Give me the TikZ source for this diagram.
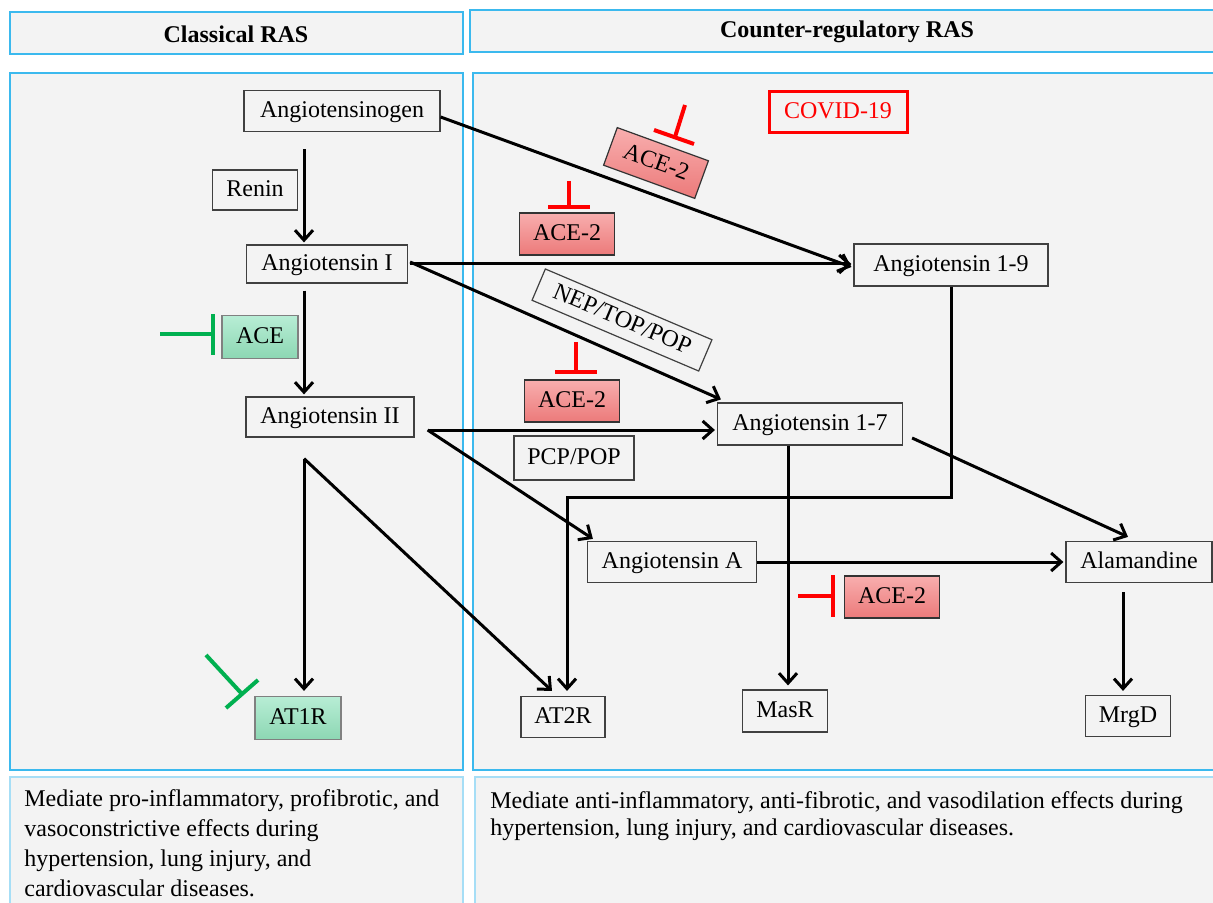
\documentclass[tikz,border=0pt]{standalone}
\usepackage{fontspec}
\setmainfont{Liberation Serif}
\usetikzlibrary{arrows.meta,calc}
\definecolor{panel}{HTML}{F3F3F3}
\definecolor{pblue}{HTML}{3BB9EE}
\definecolor{pblue2}{HTML}{A6DEF6}
\definecolor{inhred}{HTML}{FF0000}
\definecolor{inhgreen}{HTML}{00B050}
\definecolor{acetop}{HTML}{F8AEAE}
\definecolor{acebot}{HTML}{EC7A7A}
\definecolor{grtop}{HTML}{B8EDD5}
\definecolor{grbot}{HTML}{8CD7B3}
\tikzset{
 lbl/.style={draw=black!75, line width=0.6pt, fill=panel, inner sep=0pt, text height=9pt, text depth=2.5pt, font=\fontsize{12}{14}\selectfont, text=black},
 redbox/.style={lbl, draw=black!80, top color=acetop, bottom color=acebot, minimum width=47.5pt, minimum height=21pt},
 greenbox/.style={lbl, draw=black!50, top color=grtop, bottom color=grbot},
 arr/.style={line width=1.5pt, -{Straight Barb[length=5pt,width=9pt]}},
 inhr/.style={line width=2pt, draw=inhred},
 inhg/.style={line width=2pt, draw=inhgreen},
 hdr/.style={draw=pblue, line width=1pt, fill=panel},
 pan/.style={draw=pblue, line width=1pt, fill=panel},
 pan2/.style={draw=pblue2, line width=1pt, fill=panel},
}
\begin{document}
\begin{tikzpicture}[x=0.5pt,y=-0.5pt]
\useasboundingbox (0,0) rectangle (1213,903);
\clip (0,0) rectangle (1213,903);
% headers and panels
\draw[hdr] (10,12) rectangle (463,54);
\node[font=\fontsize{12}{14}\selectfont\bfseries] (h1) at (236,34) {Classical RAS};
\draw[hdr] (470,10) rectangle (1230,52);
\node[font=\fontsize{12}{14}\selectfont\bfseries] (h2) at (847,32) {Counter-regulatory RAS};
\draw[pan] (10,73) rectangle (463,770);
\draw[pan] (473,73) rectangle (1230,770);
\draw[pan2] (10,777) rectangle (463,920);
\draw[pan2] (475,777) rectangle (1230,920);
\node[anchor=north west, inner sep=0pt, align=left, font=\fontsize{12}{15}\selectfont] (t1) at (24,789)
 {Mediate pro-inflammatory, profibrotic, and\\vasoconstrictive effects during\\hypertension, lung injury, and\\cardiovascular diseases.};
\node[anchor=north west, inner sep=0pt, align=left, font=\fontsize{12}{13.5}\selectfont] (t2) at (490,791)
 {Mediate anti-inflammatory, anti-fibrotic, and vasodilation effects during\\hypertension, lung injury, and cardiovascular diseases.};
% nodes
\node[lbl, minimum width=98pt, minimum height=20.5pt] (ag) at (342,111) {Angiotensinogen};
\node[lbl, minimum width=42.5pt, minimum height=20pt] (renin) at (255,190) {Renin};
\node[lbl, minimum width=80.5pt, minimum height=19pt] (a1) at (327,264) {Angiotensin I};
\node[greenbox, minimum width=38pt, minimum height=21.5pt] (ace) at (260,337) {ACE};
\node[lbl, minimum width=84pt, minimum height=20pt] (a2) at (330,417) {Angiotensin II};
\node[greenbox, minimum width=43pt, minimum height=21.5pt] (at1r) at (298,718) {AT1R};
\node[lbl, draw=inhred, line width=1.5pt, text=inhred, minimum width=69pt, minimum height=20.5pt] (covid) at (838,112) {COVID-19};
\node[redbox, rotate=-20, minimum width=48.5pt, minimum height=20pt] (ace2a) at (656,163) {ACE-2};
\node[redbox] (ace2b) at (567,234) {ACE-2};
\node[lbl, rotate=-23, minimum width=90.5pt, minimum height=17pt] (nep) at (622,320) {NEP/TOP/POP};
\node[redbox] (ace2c) at (572,401) {ACE-2};
\node[lbl, minimum width=60pt, minimum height=22pt] (pcp) at (574,458) {PCP/POP};
\node[lbl, minimum width=97pt, minimum height=21pt] (a19) at (951,265) {Angiotensin 1-9};
\node[lbl, minimum width=92.5pt, minimum height=21pt] (a17) at (810,424) {Angiotensin 1-7};
\node[lbl, minimum width=84.5pt, minimum height=20.5pt] (aa) at (672,562) {Angiotensin A};
\node[lbl, minimum width=73pt, minimum height=20.5pt] (alam) at (1139,562) {Alamandine};
\node[redbox] (ace2d) at (892,597) {ACE-2};
\node[lbl, minimum width=42pt, minimum height=20.5pt] (at2r) at (563,717) {AT2R};
\node[lbl, minimum width=42.5pt, minimum height=21pt] (masr) at (785,711) {MasR};
\node[lbl, minimum width=42.5pt, minimum height=20.5pt] (mrgd) at (1128,716) {MrgD};
% arrows
\draw[arr] ([yshift=-3pt]ag.east) -- ([xshift=-1pt,yshift=-1pt]a19.west);
\draw[arr] ($(ag.south)+(-38,17)$) coordinate (s0) -- ([yshift=1pt]s0 |- a1.north);
\draw[arr] ($(a1.south)+(-23,7)$) coordinate (s1) -- ([yshift=1pt]s1 |- a2.north);
\draw[arr] ([xshift=1pt]a1.east) -- ([xshift=-1pt]a1.east -| a19.west);
\draw[arr] ([xshift=1pt,yshift=1pt]a1.east) -- ($(a17.north west)+(4,-3)$);
\draw[arr] ($(a2.east)+(13,13)$) coordinate (s2) -- ([xshift=-1pt]s2 -| a17.west);
\draw[arr] (s2) -- ($(aa.north west)+(6,-2)$);
\draw[arr] ($(a2.south)+(-26,21)$) coordinate (s3) -- ([yshift=2.5pt]s3 |- at1r.north);
\draw[arr] (s3) -- ($(at2r.north)+(-11,-5)$);
\draw[arr] (a19.south) -- ++(0,211) -| ($(at2r.north)+(4,-5)$);
\draw[arr] ($(a17.south)+(-22,0)$) coordinate (s4) -- ([yshift=2pt]s4 |- masr.north);
\draw[arr] ($(a17.east)+(9,14)$) -- ($(alam.north)+(-11,-4)$);
\draw[arr] (aa.east) -- ([xshift=-1pt]alam.west);
\draw[arr] ($(alam.south)+(-16,9)$) coordinate (s5) -- ([yshift=2pt]s5 |- mrgd.north);
% inhibitors
\coordinate (g1a) at (160,334); \coordinate (g1b) at (213,334);
\draw[inhg] (g1a) -- (g1b);
\draw[inhg] (213,314) -- (213,355);
\coordinate (g2a) at (206,655); \coordinate (g2b) at (242,694);
\draw[inhg] (g2a) -- (g2b);
\draw[inhg] (226,708) -- (258,680);
\coordinate (r1a) at (685,105); \coordinate (r1b) at (675,137);
\draw[inhr] (r1a) -- (r1b);
\draw[inhr] (654,130) -- (694,144);
\coordinate (r2a) at (569,181); \coordinate (r2b) at (569,207);
\draw[inhr] (r2a) -- (r2b);
\draw[inhr] (548,207) -- (590,207);
\coordinate (r3a) at (576,342); \coordinate (r3b) at (576,372);
\draw[inhr] (r3a) -- (r3b);
\draw[inhr] (555,372) -- (597,372);
\coordinate (r4a) at (798,596); \coordinate (r4b) at (833,596);
\draw[inhr] (r4a) -- (r4b);
\draw[inhr] (833,575) -- (833,617);
\end{tikzpicture}
\end{document}
